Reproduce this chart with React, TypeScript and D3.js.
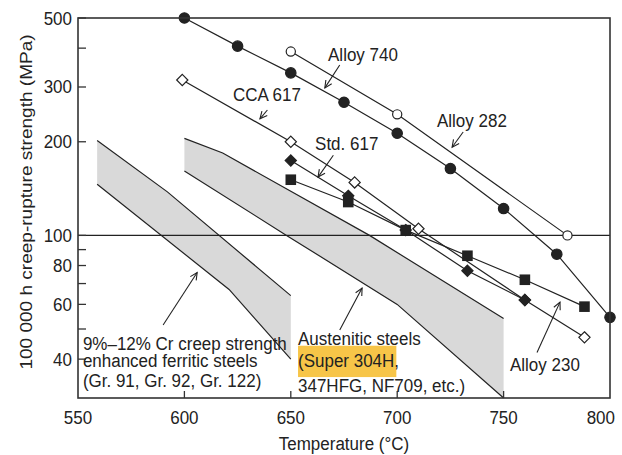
import React, { useLayoutEffect, useRef, useState } from 'react';
import * as d3 from 'd3';

const width = 622;
const height = 455;
const margin = { top: 18, right: 12, bottom: 57, left: 78 };

// creep-rupture data, temperature in °C and strength in MPa
const alloy740Temp = [650, 700, 780];
const alloy740Mpa = [390, 245, 100];
const alloy282Temp = [600, 625, 650, 675, 700, 725, 750, 775, 800];
const alloy282Mpa = [500, 406, 333, 268, 213, 164, 122, 87, 54.5];
const cca617Temp = [599, 650, 680, 710, 760, 788];
const cca617Mpa = [316, 200, 148, 105, 62, 47];
const std617Temp = [650, 677, 704, 733, 760];
const std617Mpa = [174, 134, 104, 77, 62];
const alloy230Temp = [650, 677, 704, 733, 760, 788];
const alloy230Mpa = [151, 128, 104, 86, 72, 59];

// shaded bands
const ferriticUpperTemp = [559, 592, 650];
const ferriticUpperMpa = [202, 138, 64];
const ferriticLowerTemp = [559, 621, 650];
const ferriticLowerMpa = [146, 67, 40];
const austeniticUpperTemp = [600, 618, 687, 750];
const austeniticUpperMpa = [205, 184, 100, 54];
const austeniticLowerTemp = [600, 648, 700, 750];
const austeniticLowerMpa = [161, 100, 60, 30];

const xTicks = [550, 600, 650, 700, 750, 800];
const yTickLabels = [40, 60, 80, 100, 200, 300, 500];
const yTickMarks = [40, 50, 60, 70, 80, 90, 100, 200, 300, 400, 500];

// label text and arrow (tail -> head) in data units
const labelNames = ['Alloy 740', 'Alloy 282', 'CCA 617', 'Std. 617', 'Alloy 230'];
const labelTemp = [667.5, 718.7, 622.8, 661.4, 753];
const labelMpa = [364, 223, 270, 188, 36.6];
const arrowFrom = [[673, 353], [731, 215], [639, 253], [670, 181], [765.7, 42], [590, 51.5], [673, 49.6]];
const arrowTo = [[666, 298], [725.8, 192], [635.5, 237], [662.8, 154], [776.5, 61], [606, 76], [683.5, 67.7]];

const ferriticLines = ['9%–12% Cr creep strength', 'enhanced ferritic steels', '(Gr. 91, Gr. 92, Gr. 122)'];
const austeniticLines = ['Austenitic steels', '(Super 304H', ',', '347HFG, NF709, etc.)'];

const ink = '#222';
const font = '"Liberation Sans", Arial, Helvetica, sans-serif';
const stretch = 1.12;

const x = d3.scaleLinear().domain([550, 800]).range([margin.left, width - margin.right]);
const y = d3.scaleLog().domain([30, 500]).range([height - margin.bottom, margin.top]);

const zip = (t: number[], v: number[]) => t.map((d, i) => [d, v[i]] as [number, number]);

const line = d3.line<[number, number]>().x(d => x(d[0])).y(d => y(d[1]));

const series = [
  { pts: zip(cca617Temp, cca617Mpa), marker: 'diamond-open' },
  { pts: zip(alloy740Temp, alloy740Mpa), marker: 'circle-open' },
  { pts: zip(alloy282Temp, alloy282Mpa), marker: 'circle' },
  { pts: zip(std617Temp, std617Mpa), marker: 'diamond' },
  { pts: zip(alloy230Temp, alloy230Mpa), marker: 'square' },
];

const bands = [
  { upper: zip(ferriticUpperTemp, ferriticUpperMpa), lower: zip(ferriticLowerTemp, ferriticLowerMpa) },
  { upper: zip(austeniticUpperTemp, austeniticUpperMpa), lower: zip(austeniticLowerTemp, austeniticLowerMpa) },
];

function Marker({ type, cx, cy }: { type: string; cx: number; cy: number }) {
  const open = type.endsWith('open');
  const fill = open ? '#fff' : ink;
  if (type.startsWith('circle')) {
    return <circle cx={cx} cy={cy} r={open ? 4.6 : 5.2} fill={fill} stroke={ink} strokeWidth={1.2} />;
  }
  if (type.startsWith('diamond')) {
    const s = 5.6;
    return (
      <path d={`M${cx},${cy - s}L${cx + s},${cy}L${cx},${cy + s}L${cx - s},${cy}Z`}
        fill={fill} stroke={ink} strokeWidth={1.2} />
    );
  }
  return <rect x={cx - 5.3} y={cy - 5.3} width={10.6} height={10.6} fill={fill} />;
}

function Arrow({ from, to }: { from: number[]; to: number[] }) {
  const x1 = x(from[0]), y1 = y(from[1]), x2 = x(to[0]), y2 = y(to[1]);
  const a = Math.atan2(y2 - y1, x2 - x1);
  const len = 8, spread = 0.45;
  const p1 = [x2 - len * Math.cos(a - spread), y2 - len * Math.sin(a - spread)];
  const p2 = [x2 - len * Math.cos(a + spread), y2 - len * Math.sin(a + spread)];
  return (
    <g stroke={ink} strokeWidth={1.1} fill="none">
      <line x1={x1} y1={y1} x2={x2} y2={y2} />
      <path d={`M${p1[0]},${p1[1]}L${x2},${y2}L${p2[0]},${p2[1]}`} />
    </g>
  );
}

export default function App() {
  const superRef = useRef<SVGTSpanElement>(null);
  const [superWidth, setSuperWidth] = useState(96);

  useLayoutEffect(() => {
    if (superRef.current) setSuperWidth(superRef.current.getComputedTextLength());
  }, []);

  const [x0, x1] = x.range();
  const [y0, y1] = y.range();

  return (
    <svg width={width} height={height} style={{ position: 'absolute', left: 0, top: 0, background: '#fff', fontFamily: font }}>
      {/* shaded bands */}
      {bands.map((b, i) => (
        <g key={i}>
          <path d={line([...b.upper, ...b.lower.slice().reverse()]) + 'Z'} fill="#d9d9d9" stroke="none" />
          <path d={line(b.upper)!} fill="none" stroke={ink} strokeWidth={1.2} />
          <path d={line(b.lower)!} fill="none" stroke={ink} strokeWidth={1.2} />
        </g>
      ))}

      {/* 100 MPa reference */}
      <line x1={x0} x2={x1} y1={y(100)} y2={y(100)} stroke={ink} strokeWidth={1.2} />

      {/* series lines then markers */}
      {series.map((s, i) => (
        <path key={i} d={line(s.pts)!} fill="none" stroke={ink} strokeWidth={1.2} />
      ))}
      {series.map((s, i) => (
        <g key={i}>
          {s.pts.map((p, j) => <Marker key={j} type={s.marker} cx={x(p[0])} cy={y(p[1])} />)}
        </g>
      ))}

      {/* frame and ticks */}
      <rect x={x0} y={y1} width={x1 - x0} height={y0 - y1} fill="none" stroke="#333" strokeWidth={1.6} />
      {yTickMarks.map(t => (
        <line key={t} x1={x0} x2={x0 + 8} y1={y(t)} y2={y(t)} stroke="#333" strokeWidth={1.3} />
      ))}
      {xTicks.slice(1, -1).map(t => (
        <line key={t} x1={x(t)} x2={x(t)} y1={y0} y2={y0 - 7} stroke="#333" strokeWidth={1.3} />
      ))}

      <g fill={ink} fontSize={17}>
        {yTickLabels.map(t => (
          <text key={t} textAnchor="end" transform={`translate(${x0 - 6},${y(t) + 6.5}) scale(1,${stretch})`}>{t}</text>
        ))}
        {xTicks.map((t, i) => {
          const last = i === xTicks.length - 1;
          return (
            <text key={t} textAnchor={last ? 'end' : 'middle'}
              transform={`translate(${last ? x(t) + 5 : x(t)},${y0 + 26}) scale(1,${stretch})`}>{t}</text>
          );
        })}
        <text textAnchor="middle" transform={`translate(${(x0 + x1) / 2},${y0 + 52}) scale(1,${stretch})`}>
          Temperature (°C)
        </text>
        <text textAnchor="middle" transform={`translate(32,${(y0 + y1) / 2 - 6}) rotate(-90) scale(${stretch},1)`}>
          100 000 h creep-rupture strength (MPa)
        </text>

        {labelNames.map((n, i) => (
          <text key={n} transform={`translate(${x(labelTemp[i])},${y(labelMpa[i])}) scale(1,${stretch})`}>{n}</text>
        ))}

        <g transform={`translate(${x(552.3)},${y(42.8)}) scale(1,${stretch})`}>
          {ferriticLines.map((l, i) => (
            <text key={i} y={[0, 15.2, 33][i]}>{l}</text>
          ))}
        </g>

        <g transform={`translate(${x(653.4)},${y(44.4)}) scale(1,${stretch})`}>
          <rect x={0} y={19.6 - 19} width={superWidth + 2} height={28} fill="#f7c548" />
          <text y={0}>{austeniticLines[0]}</text>
          <text y={19.6}>
            <tspan ref={superRef}>{austeniticLines[1]}</tspan>
            <tspan>{austeniticLines[2]}</tspan>
          </text>
          <text y={42}>{austeniticLines[3]}</text>
        </g>
      </g>

      {arrowFrom.map((f, i) => <Arrow key={i} from={f} to={arrowTo[i]} />)}
    </svg>
  );
}
